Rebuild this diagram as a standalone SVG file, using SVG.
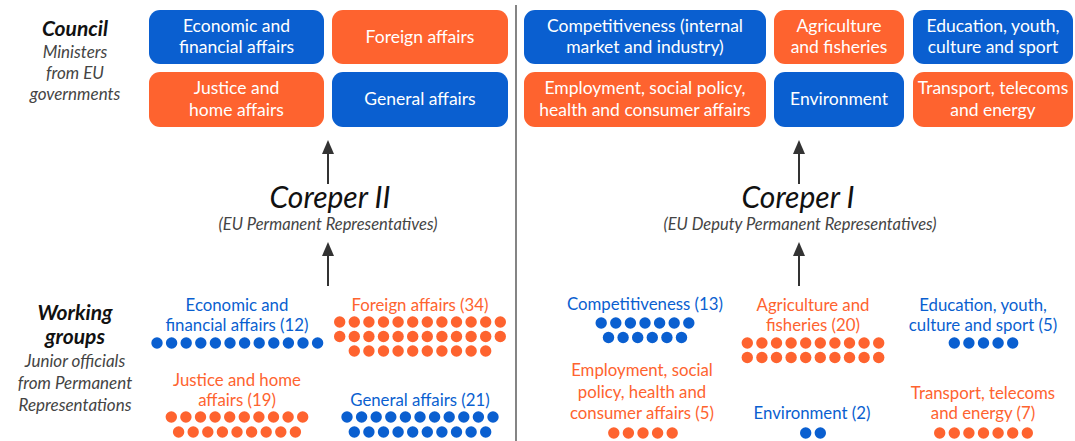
<svg xmlns="http://www.w3.org/2000/svg" xmlns:xlink="http://www.w3.org/1999/xlink" width="1075" height="441" viewBox="0 0 1075 441">
  <style>
    text { font-family: Lato, "Open Sans", "Liberation Sans", sans-serif; text-anchor: middle; }
    .box-b { fill: #0A5FD0; }
    .box-o { fill: #FE632F; }
    .bt { fill: #ffffff; font-size: 17.5px; }
    .wg { font-size: 16.8px; }
    .tb { fill: #0A5FD0; }
    .to { fill: #FE632F; }
    .b { fill: #0A5FD0; }
    .o { fill: #FE632F; }
    .head { fill: #111; font-size: 21px; font-weight: bold; font-style: italic; }
    .sub { fill: #444; font-size: 17px; font-style: italic; }
    .coreper { fill: #111; font-size: 30px; font-style: italic; }
    .rep { fill: #444; font-size: 16.5px; font-style: italic; }
    .conn { stroke: #333; stroke-width: 2; fill: none; }
  </style>
  <defs>
    <circle id="dot" r="5.7"/>
    <marker id="arr" viewBox="0 0 14 12" refX="8" refY="6" markerWidth="14" markerHeight="12" markerUnits="userSpaceOnUse" orient="auto">
      <path d="M0,0 L14,6 L0,12 Z" fill="#333"/>
    </marker>
  </defs>
  <rect width="1075" height="441" fill="#ffffff"/>

  <!-- side labels -->
  <g id="council-label">
    <text class="head" x="75" y="36">Council</text>
    <text class="sub" x="75" y="58">Ministers</text>
    <text class="sub" x="75" y="79">from EU</text>
    <text class="sub" x="75" y="100">governments</text>
  </g>
  <g id="working-groups-label">
    <text class="head" x="75" y="320">Working</text>
    <text class="head" x="75" y="344">groups</text>
    <text class="sub" x="75" y="367">Junior officials</text>
    <text class="sub" x="75" y="389">from Permanent</text>
    <text class="sub" x="75" y="411">Representations</text>
  </g>

  <!-- Council configurations: Coreper II side -->
  <g id="c-ecofin">
    <rect class="box-b" x="149" y="10" width="175" height="54" rx="11"/>
    <text class="bt" x="236.5" y="32">Economic and</text>
    <text class="bt" x="236.5" y="53">financial affairs</text>
  </g>
  <g id="c-foreign">
    <rect class="box-o" x="332" y="10" width="176" height="54" rx="11"/>
    <text class="bt" x="420" y="43">Foreign affairs</text>
  </g>
  <g id="c-justice">
    <rect class="box-o" x="149" y="72" width="175" height="55" rx="11"/>
    <text class="bt" x="236.5" y="94">Justice and</text>
    <text class="bt" x="236.5" y="116">home affairs</text>
  </g>
  <g id="c-general">
    <rect class="box-b" x="332" y="72" width="176" height="55" rx="11"/>
    <text class="bt" x="420" y="105">General affairs</text>
  </g>

  <!-- Council configurations: Coreper I side -->
  <g id="c-competitiveness">
    <rect class="box-b" x="524" y="10" width="242" height="54" rx="11"/>
    <text class="bt" x="645" y="32">Competitiveness (internal</text>
    <text class="bt" x="645" y="53">market and industry)</text>
  </g>
  <g id="c-agriculture">
    <rect class="box-o" x="774" y="10" width="130" height="54" rx="11"/>
    <text class="bt" x="839" y="32">Agriculture</text>
    <text class="bt" x="839" y="53">and fisheries</text>
  </g>
  <g id="c-education">
    <rect class="box-b" x="913" y="10" width="160" height="54" rx="11"/>
    <text class="bt" x="993" y="32">Education, youth,</text>
    <text class="bt" x="993" y="53">culture and sport</text>
  </g>
  <g id="c-employment">
    <rect class="box-o" x="524" y="72" width="242" height="55" rx="11"/>
    <text class="bt" x="645" y="94">Employment, social policy,</text>
    <text class="bt" x="645" y="116">health and consumer affairs</text>
  </g>
  <g id="c-environment">
    <rect class="box-b" x="774" y="72" width="130" height="55" rx="11"/>
    <text class="bt" x="839" y="105">Environment</text>
  </g>
  <g id="c-transport">
    <rect class="box-o" x="913" y="72" width="160" height="55" rx="11"/>
    <text class="bt" x="993" y="94">Transport, telecoms</text>
    <text class="bt" x="993" y="116">and energy</text>
  </g>

  <!-- committees -->
  <g id="coreper-2">
    <text class="coreper" x="330" y="208">Coreper II</text>
    <text class="rep" x="328" y="230">(EU Permanent Representatives)</text>
  </g>
  <g id="coreper-1">
    <text class="coreper" x="798" y="208">Coreper I</text>
    <text class="rep" x="800" y="230">(EU Deputy Permanent Representatives)</text>
  </g>

  <!-- connectors -->
  <g id="connectors">
    <line x1="516" y1="5" x2="516" y2="441" stroke="#333" stroke-width="1.2"/>
    <line class="conn" x1="328" y1="184" x2="328" y2="146" marker-end="url(#arr)"/>
    <line class="conn" x1="328" y1="286" x2="328" y2="248" marker-end="url(#arr)"/>
    <line class="conn" x1="799" y1="184" x2="799" y2="146" marker-end="url(#arr)"/>
    <line class="conn" x1="799" y1="286" x2="799" y2="248" marker-end="url(#arr)"/>
  </g>

  <!-- working groups -->
  <g id="wg-ecofin" class="b">
    <text class="wg tb" x="237" y="311">Economic and</text>
    <text class="wg tb" x="237" y="331">financial affairs (12)</text>
    <use xlink:href="#dot" x="157" y="343"/><use xlink:href="#dot" x="171.6" y="343"/><use xlink:href="#dot" x="186.2" y="343"/><use xlink:href="#dot" x="200.8" y="343"/><use xlink:href="#dot" x="215.4" y="343"/><use xlink:href="#dot" x="230" y="343"/><use xlink:href="#dot" x="244.6" y="343"/><use xlink:href="#dot" x="259.2" y="343"/><use xlink:href="#dot" x="273.8" y="343"/><use xlink:href="#dot" x="288.4" y="343"/><use xlink:href="#dot" x="303" y="343"/><use xlink:href="#dot" x="317.6" y="343"/>
  </g>
  <g id="wg-foreign" class="o">
    <text class="wg to" x="420" y="311">Foreign affairs (34)</text>
    <use xlink:href="#dot" x="339.7" y="322"/><use xlink:href="#dot" x="354.3" y="322"/><use xlink:href="#dot" x="368.9" y="322"/><use xlink:href="#dot" x="383.5" y="322"/><use xlink:href="#dot" x="398.1" y="322"/><use xlink:href="#dot" x="412.7" y="322"/><use xlink:href="#dot" x="427.3" y="322"/><use xlink:href="#dot" x="441.9" y="322"/><use xlink:href="#dot" x="456.5" y="322"/><use xlink:href="#dot" x="471.1" y="322"/><use xlink:href="#dot" x="485.7" y="322"/><use xlink:href="#dot" x="500.3" y="322"/>
    <use xlink:href="#dot" x="339.7" y="336.5"/><use xlink:href="#dot" x="354.3" y="336.5"/><use xlink:href="#dot" x="368.9" y="336.5"/><use xlink:href="#dot" x="383.5" y="336.5"/><use xlink:href="#dot" x="398.1" y="336.5"/><use xlink:href="#dot" x="412.7" y="336.5"/><use xlink:href="#dot" x="427.3" y="336.5"/><use xlink:href="#dot" x="441.9" y="336.5"/><use xlink:href="#dot" x="456.5" y="336.5"/><use xlink:href="#dot" x="471.1" y="336.5"/><use xlink:href="#dot" x="485.7" y="336.5"/><use xlink:href="#dot" x="500.3" y="336.5"/>
    <use xlink:href="#dot" x="354.3" y="351"/><use xlink:href="#dot" x="368.9" y="351"/><use xlink:href="#dot" x="383.5" y="351"/><use xlink:href="#dot" x="398.1" y="351"/><use xlink:href="#dot" x="412.7" y="351"/><use xlink:href="#dot" x="427.3" y="351"/><use xlink:href="#dot" x="441.9" y="351"/><use xlink:href="#dot" x="456.5" y="351"/><use xlink:href="#dot" x="471.1" y="351"/><use xlink:href="#dot" x="485.7" y="351"/>
  </g>
  <g id="wg-justice" class="o">
    <text class="wg to" x="237" y="386">Justice and home</text>
    <text class="wg to" x="237" y="406">affairs (19)</text>
    <use xlink:href="#dot" x="171.3" y="417"/><use xlink:href="#dot" x="185.9" y="417"/><use xlink:href="#dot" x="200.5" y="417"/><use xlink:href="#dot" x="215.1" y="417"/><use xlink:href="#dot" x="229.7" y="417"/><use xlink:href="#dot" x="244.3" y="417"/><use xlink:href="#dot" x="258.9" y="417"/><use xlink:href="#dot" x="273.5" y="417"/><use xlink:href="#dot" x="288.1" y="417"/><use xlink:href="#dot" x="302.7" y="417"/>
    <use xlink:href="#dot" x="178.6" y="432"/><use xlink:href="#dot" x="193.2" y="432"/><use xlink:href="#dot" x="207.8" y="432"/><use xlink:href="#dot" x="222.4" y="432"/><use xlink:href="#dot" x="237" y="432"/><use xlink:href="#dot" x="251.6" y="432"/><use xlink:href="#dot" x="266.2" y="432"/><use xlink:href="#dot" x="280.8" y="432"/><use xlink:href="#dot" x="295.4" y="432"/>
  </g>
  <g id="wg-general" class="b">
    <text class="wg tb" x="420" y="406">General affairs (21)</text>
    <use xlink:href="#dot" x="347" y="417"/><use xlink:href="#dot" x="361.6" y="417"/><use xlink:href="#dot" x="376.2" y="417"/><use xlink:href="#dot" x="390.8" y="417"/><use xlink:href="#dot" x="405.4" y="417"/><use xlink:href="#dot" x="420" y="417"/><use xlink:href="#dot" x="434.6" y="417"/><use xlink:href="#dot" x="449.2" y="417"/><use xlink:href="#dot" x="463.8" y="417"/><use xlink:href="#dot" x="478.4" y="417"/><use xlink:href="#dot" x="493" y="417"/>
    <use xlink:href="#dot" x="354.3" y="432"/><use xlink:href="#dot" x="368.9" y="432"/><use xlink:href="#dot" x="383.5" y="432"/><use xlink:href="#dot" x="398.1" y="432"/><use xlink:href="#dot" x="412.7" y="432"/><use xlink:href="#dot" x="427.3" y="432"/><use xlink:href="#dot" x="441.9" y="432"/><use xlink:href="#dot" x="456.5" y="432"/><use xlink:href="#dot" x="471.1" y="432"/><use xlink:href="#dot" x="485.7" y="432"/>
  </g>
  <g id="wg-competitiveness" class="b">
    <text class="wg tb" x="645" y="310">Competitiveness (13)</text>
    <use xlink:href="#dot" x="601.2" y="323"/><use xlink:href="#dot" x="615.8" y="323"/><use xlink:href="#dot" x="630.4" y="323"/><use xlink:href="#dot" x="645" y="323"/><use xlink:href="#dot" x="659.6" y="323"/><use xlink:href="#dot" x="674.2" y="323"/><use xlink:href="#dot" x="688.8" y="323"/>
    <use xlink:href="#dot" x="608.5" y="337.5"/><use xlink:href="#dot" x="623.1" y="337.5"/><use xlink:href="#dot" x="637.7" y="337.5"/><use xlink:href="#dot" x="652.3" y="337.5"/><use xlink:href="#dot" x="666.9" y="337.5"/><use xlink:href="#dot" x="681.5" y="337.5"/>
  </g>
  <g id="wg-agriculture" class="o">
    <text class="wg to" x="813" y="311">Agriculture and</text>
    <text class="wg to" x="813" y="331">fisheries (20)</text>
    <use xlink:href="#dot" x="747.3" y="343"/><use xlink:href="#dot" x="761.9" y="343"/><use xlink:href="#dot" x="776.5" y="343"/><use xlink:href="#dot" x="791.1" y="343"/><use xlink:href="#dot" x="805.7" y="343"/><use xlink:href="#dot" x="820.3" y="343"/><use xlink:href="#dot" x="834.9" y="343"/><use xlink:href="#dot" x="849.5" y="343"/><use xlink:href="#dot" x="864.1" y="343"/><use xlink:href="#dot" x="878.7" y="343"/>
    <use xlink:href="#dot" x="747.3" y="357.5"/><use xlink:href="#dot" x="761.9" y="357.5"/><use xlink:href="#dot" x="776.5" y="357.5"/><use xlink:href="#dot" x="791.1" y="357.5"/><use xlink:href="#dot" x="805.7" y="357.5"/><use xlink:href="#dot" x="820.3" y="357.5"/><use xlink:href="#dot" x="834.9" y="357.5"/><use xlink:href="#dot" x="849.5" y="357.5"/><use xlink:href="#dot" x="864.1" y="357.5"/><use xlink:href="#dot" x="878.7" y="357.5"/>
  </g>
  <g id="wg-education" class="b">
    <text class="wg tb" x="983" y="311">Education, youth,</text>
    <text class="wg tb" x="983" y="331">culture and sport (5)</text>
    <use xlink:href="#dot" x="954.3" y="343"/><use xlink:href="#dot" x="968.9" y="343"/><use xlink:href="#dot" x="983.5" y="343"/><use xlink:href="#dot" x="998.1" y="343"/><use xlink:href="#dot" x="1012.7" y="343"/>
  </g>
  <g id="wg-employment" class="o">
    <text class="wg to" x="642" y="376">Employment, social</text>
    <text class="wg to" x="642" y="398">policy, health and</text>
    <text class="wg to" x="642" y="419">consumer affairs (5)</text>
    <use xlink:href="#dot" x="613.8" y="433"/><use xlink:href="#dot" x="628.4" y="433"/><use xlink:href="#dot" x="643" y="433"/><use xlink:href="#dot" x="657.6" y="433"/><use xlink:href="#dot" x="672.2" y="433"/>
  </g>
  <g id="wg-environment" class="b">
    <text class="wg tb" x="812" y="419">Environment (2)</text>
    <use xlink:href="#dot" x="805.7" y="433"/><use xlink:href="#dot" x="820.3" y="433"/>
  </g>
  <g id="wg-transport" class="o">
    <text class="wg to" x="983" y="399">Transport, telecoms</text>
    <text class="wg to" x="983" y="419">and energy (7)</text>
    <use xlink:href="#dot" x="939.7" y="433"/><use xlink:href="#dot" x="954.3" y="433"/><use xlink:href="#dot" x="968.9" y="433"/><use xlink:href="#dot" x="983.5" y="433"/><use xlink:href="#dot" x="998.1" y="433"/><use xlink:href="#dot" x="1012.7" y="433"/><use xlink:href="#dot" x="1027.3" y="433"/>
  </g>
</svg>
